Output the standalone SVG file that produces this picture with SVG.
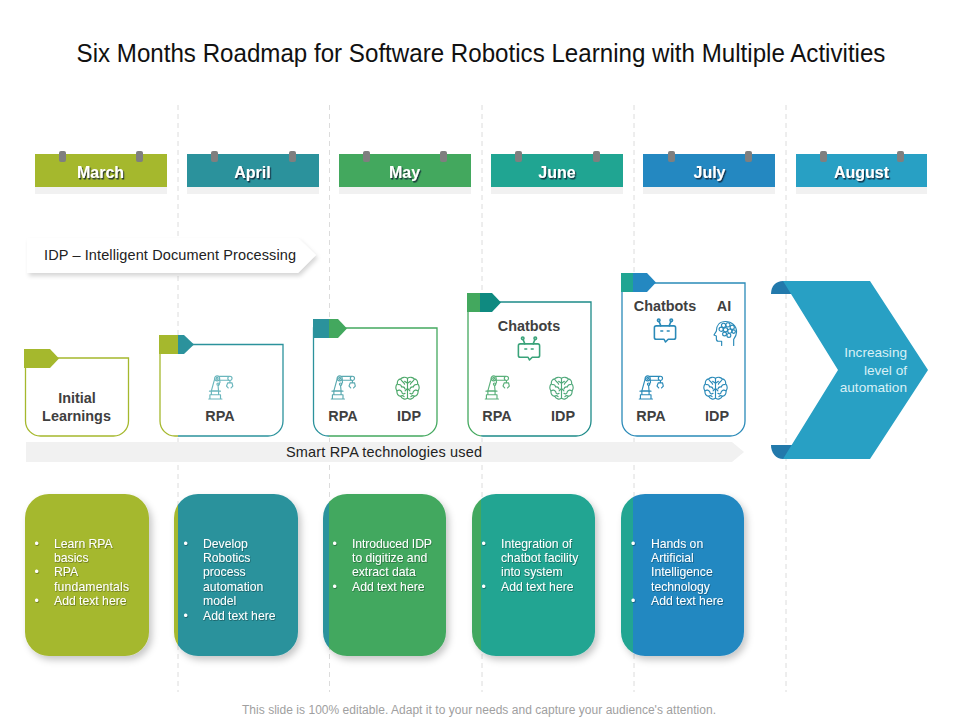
<svg xmlns="http://www.w3.org/2000/svg" width="960" height="720" viewBox="0 0 960 720">
<style>
text{font-family:"Liberation Sans",Arial,sans-serif}
.guide{stroke:#dcdcdc;stroke-width:1;stroke-dasharray:5 4;fill:none}
.mon{font-size:16px;font-weight:700;fill:#fff;text-anchor:middle;filter:url(#ts)}
.pin{fill:#7f7f7f}
.tray{fill:#f1f1f1}
.lab{font-size:14.4px;font-weight:700;fill:#404040;text-anchor:middle}
.card{fill:#fff;stroke-width:1.3}
.bl{font-size:12.2px;fill:#fff;filter:url(#ls)}
.ic{fill:none;stroke-width:1.2;stroke-linecap:round;stroke-linejoin:round}
.ict{fill:none;stroke-width:1.7;stroke-linecap:round;stroke-linejoin:round}
</style>
<defs>
<filter id="ts" x="-20%" y="-30%" width="140%" height="170%"><feDropShadow dx="1.2" dy="1.5" stdDeviation="0.5" flood-color="#123" flood-opacity="0.85"/></filter>
<filter id="ls" x="-10%" y="-10%" width="120%" height="125%"><feDropShadow dx="0.6" dy="0.8" stdDeviation="0.4" flood-color="#000" flood-opacity="0.4"/></filter>
<filter id="bs" x="-10%" y="-10%" width="125%" height="125%"><feDropShadow dx="3" dy="4" stdDeviation="3.500" flood-color="#000" flood-opacity="0.22"/></filter>
<filter id="as" x="-5%" y="-20%" width="110%" height="150%"><feDropShadow dx="2" dy="3" stdDeviation="2" flood-color="#000" flood-opacity="0.16"/></filter>
<linearGradient id="c2" gradientUnits="userSpaceOnUse" x1="150" y1="0" x2="300" y2="0"><stop offset="0.187" stop-color="#a5b82d"/><stop offset="0.187" stop-color="#2b929c"/></linearGradient>
<linearGradient id="c3" gradientUnits="userSpaceOnUse" x1="300" y1="0" x2="450" y2="0"><stop offset="0.193" stop-color="#2b929c"/><stop offset="0.193" stop-color="#43a85e"/></linearGradient>
<linearGradient id="c4" gradientUnits="userSpaceOnUse" x1="460" y1="0" x2="610" y2="0"><stop offset="0.137" stop-color="#43a85e"/><stop offset="0.137" stop-color="#20a592"/></linearGradient>
<linearGradient id="s4" gradientUnits="userSpaceOnUse" x1="460" y1="0" x2="610" y2="0"><stop offset="0.137" stop-color="#43a85e"/><stop offset="0.137" stop-color="#1c8a88"/></linearGradient>
<linearGradient id="c5" gradientUnits="userSpaceOnUse" x1="610" y1="0" x2="760" y2="0"><stop offset="0.153" stop-color="#20a592"/><stop offset="0.153" stop-color="#2488c1"/></linearGradient>
<linearGradient id="f4" gradientUnits="userSpaceOnUse" x1="460" y1="0" x2="510" y2="0"><stop offset="0.4" stop-color="#43a85e"/><stop offset="0.4" stop-color="#0f8a80"/></linearGradient>
<symbol id="robot" viewBox="0 0 26 26" overflow="visible">
<g class="ic">
<path d="M.8 25H14.500M2 25V20.500H13V25M3.500 20.500V16.500H11V20.500M1.500 16.800H13"/>
<path d="M3.500 16.500L6 7.500M11 16.500L10.500 11.500L12.500 7.500M6 7.500L7 4M12.500 7.500L12 4"/>
<circle cx="9.500" cy="3.500" r="2.600"/><circle cx="9.500" cy="3.500" r="1"/>
<path d="M12 1.500H22M12 5.500H21.500"/>
<circle cx="22.800" cy="3.500" r="2.200"/>
<path d="M22.800 5.700V7.800M20.500 8.200H25M20.500 8.200L19.300 11.500L21 13.500M25 8.200L25.800 11.500L24 13.500"/>
<circle cx="10.500" cy="9.500" r="1.200"/>
</g>
</symbol>
<symbol id="brain" viewBox="0 0 26 26" overflow="visible">
<g class="ic">
<path d="M13 2.500C11 .8 7.500 1 6 3C3.500 3.200 2 5.500 2.500 8C.5 10 .3 13.500 2 15.500C1.800 18.500 3.500 20.800 6 21.200C7 23.800 11 25 13 23C15 25 19 23.800 20 21.200C22.500 20.800 24.200 18.500 24 15.500C25.700 13.500 25.500 10 23.500 8C24 5.500 22.500 3.200 20 3C18.500 1 15 .8 13 2.500Z"/>
<path d="M13 2.500V23M13 7.500L10 5.500M6 3.500C7 6 9 6 10 8.500M3 9C5 8.500 6.500 9.500 7 11.500M7 11.500C9 11 10 12 10.500 13.500M2 15.500C4 14 6 14.500 7 16.500M7 16.500C7 18.500 9 19 10.500 18M13 13L10.500 15.500M6 21C7.500 20 8.500 20.500 9.500 21.500"/>
<path d="M13 7.500L16 5.500M20 3.500C19 6 17 6 16 8.500M23 9C21 8.500 19.500 9.500 19 11.500M19 11.500C17 11 16 12 15.500 13.500M24 15.500C22 14 20 14.500 19 16.500M19 16.500C19 18.500 17 19 15.500 18M13 13L15.500 15.500M20 21C18.500 20 17.500 20.500 16.500 21.500"/>
</g>
</symbol>
<symbol id="bot" viewBox="0 0 26 26" overflow="visible">
<g class="ict">
<path d="M3.500 8.500H22.500A2 2 0 0 1 24.500 10.500V21A2 2 0 0 1 22.500 23H16.500L13.500 26L12 23H3.500A2 2 0 0 1 1.500 21V10.500A2 2 0 0 1 3.500 8.500Z"/>
<path d="M8.500 8.500L6.500 3.500M17.500 8.500L19.500 3.500M8.500 14H10.500M15.500 14H17.500"/>
<circle cx="6.200" cy="2.500" r="1.400"/><circle cx="19.800" cy="2.500" r="1.400"/>
</g>
</symbol>
<symbol id="head" viewBox="0 0 26 28" overflow="visible">
<g class="ic">
<path d="M9 26V21.500H5.500C4 21.500 3.500 20.500 3.500 19V16L1 15L3.500 11C3.500 5 7 1 13 1C19.500 1 24.500 5.500 24.500 12C24.500 15.500 23 17.500 21.500 19.500V26"/>
<circle cx="11" cy="5" r="2.200"/><circle cx="15.500" cy="4.500" r="2.200"/><circle cx="20" cy="7" r="2.200"/><circle cx="8.500" cy="9" r="2.200"/><circle cx="13" cy="9.500" r="2.200"/><circle cx="17.500" cy="11" r="2.200"/><circle cx="21.500" cy="11.500" r="1.800"/><circle cx="12" cy="14" r="2"/><circle cx="16.500" cy="15.500" r="2"/>
</g>
</symbol>
</defs>
<rect width="960" height="720" fill="#fff"/>
<text id="title" transform="translate(481 62) scale(.9287 1)" x="0" y="0" font-size="26" fill="#111" text-anchor="middle">Six Months Roadmap for Software Robotics Learning with Multiple Activities</text>
<g id="connectors">
<path class="guide" d="M178 105V692M329.500 105V692M482 105V692M634 105V692M786 105V692"/>
</g>
<g id="month-march"><rect class="tray" x="35" y="187" width="132" height="7"/><rect x="35" y="154" width="132" height="33" fill="#a5b82d"/><rect class="pin" x="59" y="151" width="7" height="11" rx="2"/><rect class="pin" x="136" y="151" width="7" height="11" rx="2"/><text class="mon" x="100.500" y="177.500">March</text></g>
<g id="month-april"><rect class="tray" x="187" y="187" width="132" height="7"/><rect x="187" y="154" width="132" height="33" fill="#2b929c"/><rect class="pin" x="211" y="151" width="7" height="11" rx="2"/><rect class="pin" x="289" y="151" width="7" height="11" rx="2"/><text class="mon" x="252.500" y="177.500">April</text></g>
<g id="month-may"><rect class="tray" x="339" y="187" width="132" height="7"/><rect x="339" y="154" width="132" height="33" fill="#43a85e"/><rect class="pin" x="363" y="151" width="7" height="11" rx="2"/><rect class="pin" x="440" y="151" width="7" height="11" rx="2"/><text class="mon" x="404.500" y="177.500">May</text></g>
<g id="month-june"><rect class="tray" x="491" y="187" width="132" height="7"/><rect x="491" y="154" width="132" height="33" fill="#20a592"/><rect class="pin" x="515" y="151" width="7" height="11" rx="2"/><rect class="pin" x="593" y="151" width="7" height="11" rx="2"/><text class="mon" x="557" y="177.500">June</text></g>
<g id="month-july"><rect class="tray" x="643" y="187" width="132" height="7"/><rect x="643" y="154" width="132" height="33" fill="#2488c1"/><rect class="pin" x="668" y="151" width="7" height="11" rx="2"/><rect class="pin" x="745" y="151" width="7" height="11" rx="2"/><text class="mon" x="709.500" y="177.500">July</text></g>
<g id="month-august"><rect class="tray" x="796" y="187" width="131" height="7"/><rect x="796" y="154" width="131" height="33" fill="#28a0c4"/><rect class="pin" x="820" y="151" width="7" height="11" rx="2"/><rect class="pin" x="897" y="151" width="7" height="11" rx="2"/><text class="mon" x="861.500" y="177.500">August</text></g>
<g id="idp-note"><path d="M27 238H298L316 255L298 273H27Z" fill="#fff" filter="url(#as)"/><text x="44" y="260" font-size="14.500" fill="#222" textLength="252">IDP – Intelligent Document Processing</text></g>
<g id="tech-bar"><path d="M26 442H732L744 452L732 462H26Z" fill="#f1f1f1"/><text x="286" y="457" font-size="14.500" fill="#222" textLength="196">Smart RPA technologies used</text></g>
<g id="card-initial"><path class="card" d="M25.500 358H128.500V421A15 15 0 0 1 113.500 436H40.500A15 15 0 0 1 25.500 421Z" stroke="#a5b82d"/><path d="M24 349H50L59 358.500L50 368H24Z" fill="#a5b82d"/><text class="lab" x="77" y="403">Initial</text><text class="lab" x="76.500" y="421">Learnings</text></g>
<g id="card-april"><path class="card" d="M160 344.500H283V421A15 15 0 0 1 268 436H175A15 15 0 0 1 160 421Z" stroke="url(#c2)"/><path d="M159 335H184L194 344.500L184 354H159Z" fill="url(#c2)"/><use href="#robot" x="207.500" y="375" width="26" height="25" stroke="#6ab6bd"/><text class="lab" x="220" y="421">RPA</text></g>
<g id="card-may"><path class="card" d="M313.500 328H437V421A15 15 0 0 1 422 436H328.500A15 15 0 0 1 313.500 421Z" stroke="url(#c3)"/><path d="M313 319H338L347 328.500L338 338H313Z" fill="url(#c3)"/><use href="#robot" x="330" y="375" width="26" height="25" stroke="#5aa9b0"/><use href="#brain" x="395" y="376" width="25" height="25" stroke="#4da86a"/><text class="lab" x="343" y="421">RPA</text><text class="lab" x="409" y="421">IDP</text></g>
<g id="card-june"><path class="card" d="M468 302H591V421A15 15 0 0 1 576 436H483A15 15 0 0 1 468 421Z" stroke="url(#s4)"/><path d="M467 293H492L501 302.500L492 312H467Z" fill="url(#f4)"/><text class="lab" x="529" y="331">Chatbots</text><use href="#bot" x="517" y="335" width="24" height="26" stroke="#3aa37a"/><use href="#robot" x="484" y="375" width="26" height="25" stroke="#5ab07a"/><use href="#brain" x="549" y="376" width="25" height="25" stroke="#4fa87a"/><text class="lab" x="497" y="421">RPA</text><text class="lab" x="563" y="421">IDP</text></g>
<g id="card-july"><path class="card" d="M622 283H745V421A15 15 0 0 1 730 436H637A15 15 0 0 1 622 421Z" stroke="#2a8ab8"/><path d="M621 273H647L656 282.500L647 292H621Z" fill="url(#c5)"/><text class="lab" x="665" y="311">Chatbots</text><text class="lab" x="724" y="311">AI</text><use href="#bot" x="653" y="317" width="24" height="26" stroke="#2a8ab8"/><use href="#head" x="713" y="320" width="25" height="28" stroke="#2a8ab8"/><use href="#robot" x="638" y="375" width="26" height="25" stroke="#2a8ab8"/><use href="#brain" x="703" y="376" width="25" height="25" stroke="#2a8ab8"/><text class="lab" x="651" y="421">RPA</text><text class="lab" x="717" y="421">IDP</text></g>
<g id="automation-arrow"><path d="M771 294C771 286 776 281 783 281H792V294Z" fill="#2279ab"/><path d="M771 445C771 453 776 459 783 459H792V445Z" fill="#2279ab"/><path d="M783 281H870L928 370L870 459H783L838 370Z" fill="#28a0c4"/><g font-size="13.600" fill="#d8f0f6" text-anchor="end"><text x="907" y="357">Increasing</text><text x="907" y="374.500">level of</text><text x="907" y="392">automation</text></g></g>
<g id="box-march"><rect x="25" y="494" width="124" height="162" rx="24" fill="#a5b82d" filter="url(#bs)"/><g class="bl"><text x="34.500" y="548">•</text><text x="54" y="548">Learn RPA</text><text x="54" y="562">basics</text><text x="34.500" y="576">•</text><text x="54" y="576">RPA</text><text x="54" y="591" textLength="75">fundamentals</text><text x="34.500" y="605">•</text><text x="54" y="605">Add text here</text></g></g>
<g id="box-april"><rect x="174" y="494" width="124" height="162" rx="24" fill="url(#c2)" filter="url(#bs)"/><g class="bl"><text x="183.500" y="548">•</text><text x="203" y="548">Develop</text><text x="203" y="562">Robotics</text><text x="203" y="576">process</text><text x="203" y="591">automation</text><text x="203" y="605">model</text><text x="183.500" y="620">•</text><text x="203" y="620">Add text here</text></g></g>
<g id="box-may"><rect x="323" y="494" width="123" height="162" rx="24" fill="url(#c3)" filter="url(#bs)"/><g class="bl"><text x="332.500" y="548">•</text><text x="352" y="548" textLength="80">Introduced IDP</text><text x="352" y="562">to digitize and</text><text x="352" y="576">extract data</text><text x="332.500" y="591">•</text><text x="352" y="591">Add text here</text></g></g>
<g id="box-june"><rect x="472" y="494" width="123" height="162" rx="24" fill="url(#c4)" filter="url(#bs)"/><g class="bl"><text x="481.500" y="548">•</text><text x="501" y="548">Integration of</text><text x="501" y="562">chatbot facility</text><text x="501" y="576">into system</text><text x="481.500" y="591">•</text><text x="501" y="591">Add text here</text></g></g>
<g id="box-july"><rect x="621" y="494" width="123" height="162" rx="24" fill="url(#c5)" filter="url(#bs)"/><g class="bl"><text x="631" y="548">•</text><text x="651" y="548">Hands on</text><text x="651" y="562">Artificial</text><text x="651" y="576">Intelligence</text><text x="651" y="591">technology</text><text x="631" y="605">•</text><text x="651" y="605">Add text here</text></g></g>
<text id="footer" x="242" y="714" font-size="12" fill="#a0a0a0" textLength="474">This slide is 100% editable. Adapt it to your needs and capture your audience's attention.</text>
</svg>
